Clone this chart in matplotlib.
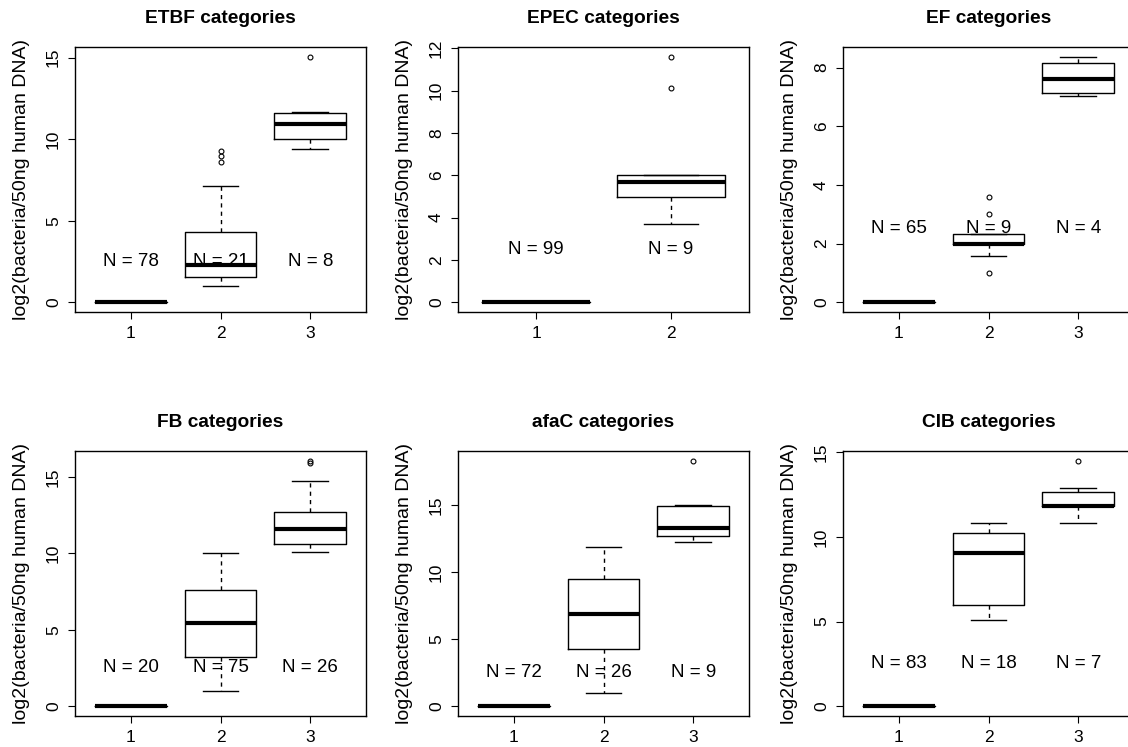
import matplotlib
matplotlib.use('Agg')
import matplotlib.pyplot as plt
from matplotlib.ticker import MultipleLocator

plt.rcParams['font.family'] = ['Liberation Sans', 'DejaVu Sans']

# one entry per panel
titles = ['ETBF categories', 'EPEC categories', 'EF categories',
          'FB categories', 'afaC categories', 'CIB categories']
counts = [[78, 21, 8], [99, 9], [65, 9, 4],
          [20, 75, 26], [72, 26, 9], [83, 18, 7]]
medians = [[0, 2.3, 10.9], [0, 5.67], [0, 2.0, 7.6],
           [0, 5.45, 11.57], [0, 6.85, 13.3], [0, 9.05, 11.85]]
q1 = [[0, 1.55, 10.0], [0, 4.95], [0, 2.0, 7.12],
      [0, 3.19, 10.64], [0, 4.25, 12.68], [0, 5.98, 11.82]]
q3 = [[0, 4.3, 11.6], [0, 6.0], [0, 2.32, 8.17],
      [0, 7.63, 12.71], [0, 9.5, 14.9], [0, 10.2, 12.67]]
whislo = [[0, 1.0, 9.4], [0, 3.7], [0, 1.58, 7.03],
          [0, 1.0, 10.11], [0, 1.0, 12.23], [0, 5.1, 10.83]]
whishi = [[0, 7.1, 11.65], [0, 6.0], [0, 2.32, 8.37],
          [0, 10.0, 14.75], [0, 11.9, 15.03], [0, 10.8, 12.87]]
fliers = [[[], [8.6, 8.95, 9.3], [15.05]],
          [[], [10.13, 11.6]],
          [[], [1.0, 3.0, 3.58], []],
          [[], [], [15.9, 16.05]],
          [[], [], [18.3]],
          [[], [], [14.49]]]
ytick_step = [5, 2, 2, 5, 5, 5]

W, H = 1128, 747
lefts = [75, 458, 843]
tops = [47, 451]
aw, ah = 291, 265

fig = plt.figure(figsize=(W / 100, H / 100), dpi=100)

for k in range(6):
    r, c = divmod(k, 3)
    ax = fig.add_axes([lefts[c] / W, 1 - (tops[r] + ah) / H, aw / W, ah / H])
    n = len(counts[k])
    stats = []
    for i in range(n):
        stats.append(dict(med=medians[k][i], q1=q1[k][i], q3=q3[k][i],
                          whislo=whislo[k][i], whishi=whishi[k][i],
                          fliers=fliers[k][i]))
    ax.bxp(stats, positions=range(1, n + 1), widths=0.8, capwidths=0.4,
           showfliers=True, manage_ticks=False,
           boxprops=dict(color='black', linewidth=1.0),
           medianprops=dict(color='black', linewidth=3.0, solid_capstyle='butt'),
           whiskerprops=dict(color='black', linewidth=1.0, linestyle=(0, (3, 3))),
           capprops=dict(color='black', linewidth=1.0),
           flierprops=dict(marker='o', markersize=3.5, markerfacecolor='none',
                           markeredgecolor='black', markeredgewidth=0.8))

    # R style axis limits: data range extended by 4%
    vals = [v for s in stats for v in [s['whislo'], s['whishi']] + list(s['fliers'])]
    lo, hi = min(vals), max(vals)
    pad = 0.04 * (hi - lo)
    ax.set_ylim(lo - pad, hi + pad)
    ax.set_xlim(0.5 - 0.04 * n, n + 0.5 + 0.04 * n)
    ax.set_xticks(range(1, n + 1))
    ax.set_xticklabels([str(i) for i in range(1, n + 1)])
    ax.yaxis.set_major_locator(MultipleLocator(ytick_step[k]))

    for i in range(n):
        ax.text(i + 1, 2.5, f'N = {counts[k][i]}', ha='center', va='center', fontsize=13.5)

    ax.tick_params(direction='out', length=5, width=0.8, labelsize=12.5, pad=5)
    plt.setp(ax.get_yticklabels(), rotation=90, va='center')
    for sp in ax.spines.values():
        sp.set_linewidth(1.0)
    ax.set_title(titles[k], fontsize=13.8, fontweight='bold', pad=17)
    ax.set_ylabel('log2(bacteria/50ng human DNA)', fontsize=14)
    ax.yaxis.set_label_coords(-0.155, 0.5)

fig.savefig('out.png', dpi=100)
